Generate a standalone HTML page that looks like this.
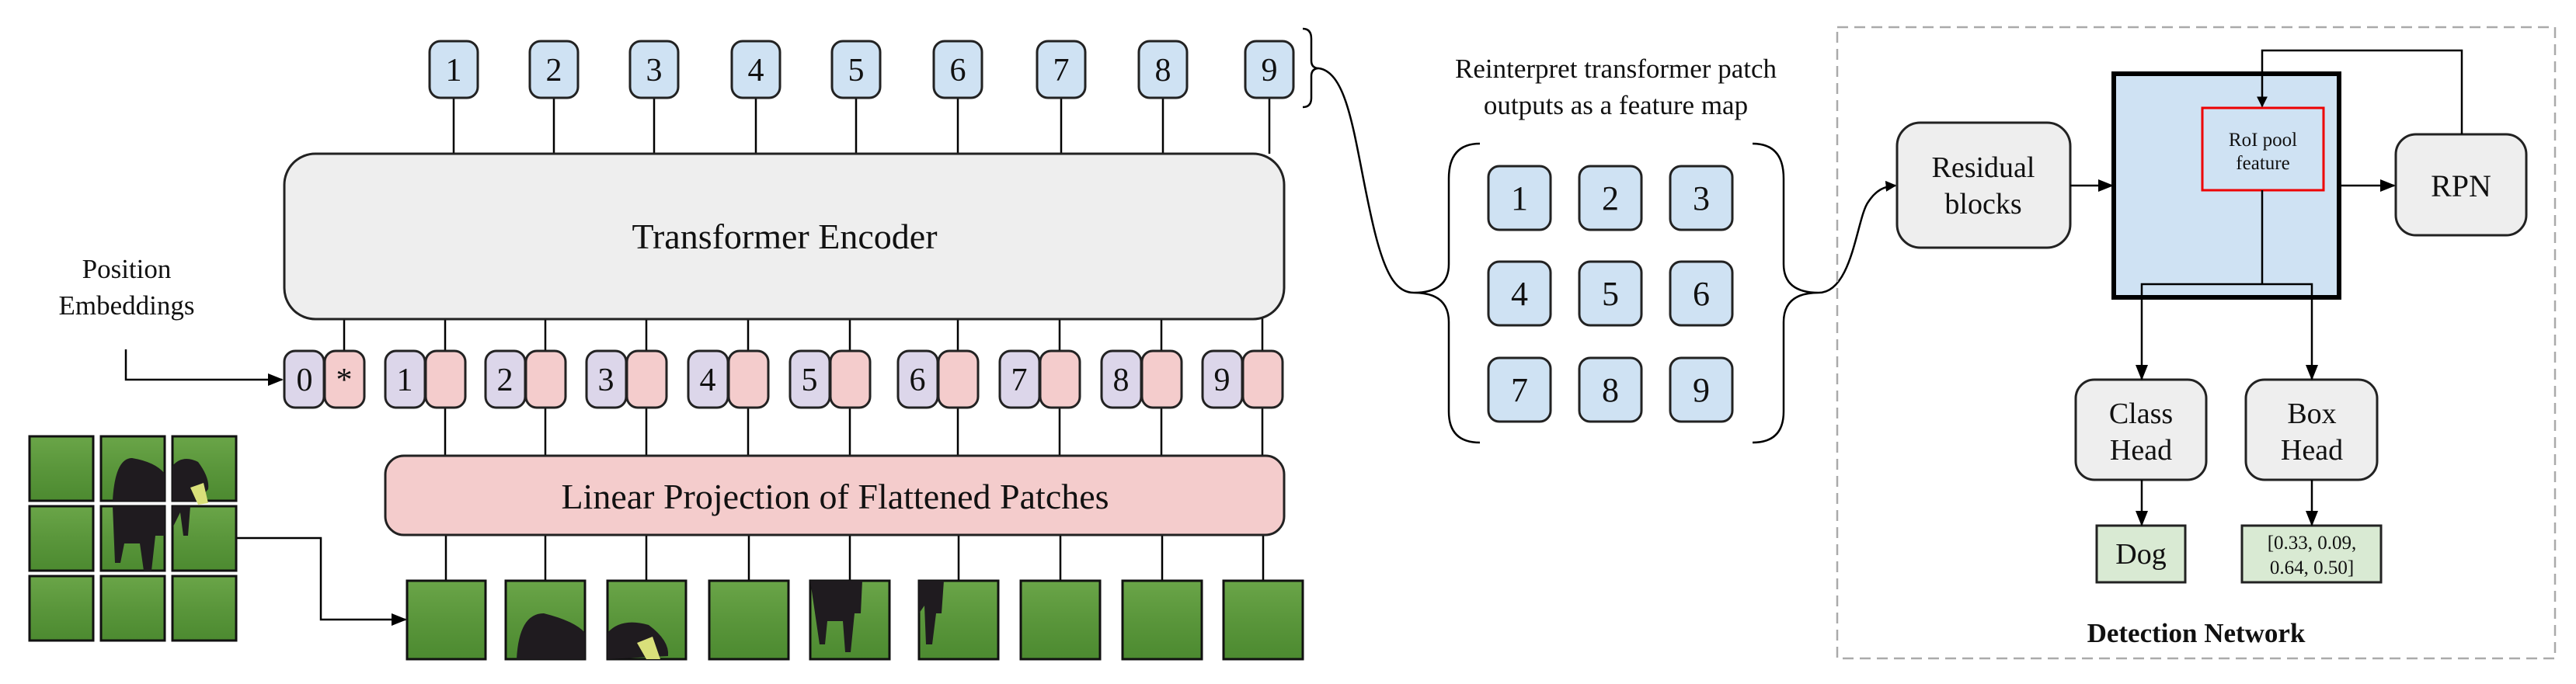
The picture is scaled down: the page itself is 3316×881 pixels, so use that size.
<!DOCTYPE html>
<html><head><meta charset="utf-8"><style>
html,body{margin:0;padding:0;background:#fff}
svg{display:block}
svg text{font-family:"Liberation Serif","Times New Roman",serif;fill:#111}
</style></head><body>
<svg width="3316" height="881" viewBox="0 0 3316 881" xmlns="http://www.w3.org/2000/svg" font-family="Liberation Serif, serif">
<defs>
<marker id="ar" viewBox="0 0 10 10" refX="9" refY="5" markerWidth="14" markerHeight="14" orient="auto" markerUnits="userSpaceOnUse"><path d="M0,0 L10,5 L0,10 z" fill="#000"/></marker>
<marker id="ar2" viewBox="0 0 10 10" refX="9" refY="5" markerWidth="20" markerHeight="20" orient="auto" markerUnits="userSpaceOnUse"><path d="M0,1 L10,5 L0,9 z" fill="#000"/></marker>
<linearGradient id="g" x1="0" y1="0" x2="0" y2="1"><stop offset="0" stop-color="#6aa548"/><stop offset="0.5" stop-color="#5a963b"/><stop offset="1" stop-color="#4c8a30"/></linearGradient>
</defs>
<g stroke="#000" stroke-width="2.5" fill="none">
<line x1="584" y1="126" x2="584" y2="198"/><line x1="713" y1="126" x2="713" y2="198"/><line x1="842" y1="126" x2="842" y2="198"/><line x1="973" y1="126" x2="973" y2="198"/><line x1="1102" y1="126" x2="1102" y2="198"/><line x1="1233" y1="126" x2="1233" y2="198"/><line x1="1366" y1="126" x2="1366" y2="198"/><line x1="1497" y1="126" x2="1497" y2="198"/><line x1="1634" y1="126" x2="1634" y2="198"/>
<line x1="443" y1="410" x2="443" y2="452"/>
<line x1="573" y1="410" x2="573" y2="452"/><line x1="702" y1="410" x2="702" y2="452"/><line x1="832" y1="410" x2="832" y2="452"/><line x1="963" y1="410" x2="963" y2="452"/><line x1="1094" y1="410" x2="1094" y2="452"/><line x1="1233" y1="410" x2="1233" y2="452"/><line x1="1364" y1="410" x2="1364" y2="452"/><line x1="1495" y1="410" x2="1495" y2="452"/><line x1="1625" y1="410" x2="1625" y2="452"/>
<line x1="573" y1="525" x2="573" y2="587"/><line x1="702" y1="525" x2="702" y2="587"/><line x1="832" y1="525" x2="832" y2="587"/><line x1="963" y1="525" x2="963" y2="587"/><line x1="1094" y1="525" x2="1094" y2="587"/><line x1="1233" y1="525" x2="1233" y2="587"/><line x1="1364" y1="525" x2="1364" y2="587"/><line x1="1495" y1="525" x2="1495" y2="587"/><line x1="1625" y1="525" x2="1625" y2="587"/>
<line x1="574" y1="688" x2="574" y2="748"/><line x1="702" y1="688" x2="702" y2="748"/><line x1="832" y1="688" x2="832" y2="748"/><line x1="964" y1="688" x2="964" y2="748"/><line x1="1094" y1="688" x2="1094" y2="748"/><line x1="1234" y1="688" x2="1234" y2="748"/><line x1="1365" y1="688" x2="1365" y2="748"/><line x1="1496" y1="688" x2="1496" y2="748"/><line x1="1626" y1="688" x2="1626" y2="748"/>
<polyline points="162,450 162,489 363,489" marker-end="url(#ar2)"/>
<polyline points="304,693 413,693 413,798 522,798" marker-end="url(#ar2)"/>
</g>
<g stroke="#222" stroke-width="3" fill="#cfe2f3">
<rect x="553" y="53" width="62" height="73" rx="14"/><rect x="682" y="53" width="62" height="73" rx="14"/><rect x="811" y="53" width="62" height="73" rx="14"/><rect x="942" y="53" width="62" height="73" rx="14"/><rect x="1071" y="53" width="62" height="73" rx="14"/><rect x="1202" y="53" width="62" height="73" rx="14"/><rect x="1335" y="53" width="62" height="73" rx="14"/><rect x="1466" y="53" width="62" height="73" rx="14"/><rect x="1603" y="53" width="62" height="73" rx="14"/>
</g>
<g font-size="42" text-anchor="middle">
<text x="584" y="104">1</text><text x="713" y="104">2</text><text x="842" y="104">3</text><text x="973" y="104">4</text><text x="1102" y="104">5</text><text x="1233" y="104">6</text><text x="1366" y="104">7</text><text x="1497" y="104">8</text><text x="1634" y="104">9</text>
</g>
<rect x="366" y="198" width="1287" height="213" rx="40" fill="#eeeeee" stroke="#222" stroke-width="3"/>
<text x="1010" y="320" font-size="46" text-anchor="middle">Transformer Encoder</text>
<text x="163" y="358" font-size="35" text-anchor="middle">Position</text>
<text x="163" y="405" font-size="35" text-anchor="middle">Embeddings</text>
<g stroke="#222" stroke-width="3">
<g fill="#dcd6ea">
<rect x="366" y="452" width="51" height="73" rx="14"/><rect x="496" y="452" width="51" height="73" rx="14"/><rect x="625" y="452" width="51" height="73" rx="14"/><rect x="755" y="452" width="51" height="73" rx="14"/><rect x="886" y="452" width="51" height="73" rx="14"/><rect x="1017" y="452" width="51" height="73" rx="14"/><rect x="1156" y="452" width="51" height="73" rx="14"/><rect x="1287" y="452" width="51" height="73" rx="14"/><rect x="1418" y="452" width="51" height="73" rx="14"/><rect x="1548" y="452" width="51" height="73" rx="14"/>
</g>
<g fill="#f4cccc">
<rect x="418" y="452" width="51" height="73" rx="14"/><rect x="548" y="452" width="51" height="73" rx="14"/><rect x="677" y="452" width="51" height="73" rx="14"/><rect x="807" y="452" width="51" height="73" rx="14"/><rect x="938" y="452" width="51" height="73" rx="14"/><rect x="1069" y="452" width="51" height="73" rx="14"/><rect x="1208" y="452" width="51" height="73" rx="14"/><rect x="1339" y="452" width="51" height="73" rx="14"/><rect x="1470" y="452" width="51" height="73" rx="14"/><rect x="1600" y="452" width="51" height="73" rx="14"/>
</g>
</g>
<g font-size="42" text-anchor="middle">
<text x="392" y="503">0</text><text x="443" y="503">*</text><text x="521" y="503">1</text><text x="650" y="503">2</text><text x="780" y="503">3</text><text x="911" y="503">4</text><text x="1042" y="503">5</text><text x="1181" y="503">6</text><text x="1312" y="503">7</text><text x="1443" y="503">8</text><text x="1573" y="503">9</text>
</g>
<rect x="496" y="587" width="1157" height="102" rx="24" fill="#f4cccc" stroke="#222" stroke-width="3"/>
<text x="1075" y="655" font-size="46" text-anchor="middle">Linear Projection of Flattened Patches</text>
<g stroke="#111" stroke-width="3" fill="url(#g)">
<rect x="38" y="562" width="82" height="83"/><rect x="130" y="562" width="82" height="83"/><rect x="222" y="562" width="82" height="83"/>
<rect x="38" y="652" width="82" height="83"/><rect x="130" y="652" width="82" height="83"/><rect x="222" y="652" width="82" height="83"/>
<rect x="38" y="742" width="82" height="83"/><rect x="130" y="742" width="82" height="83"/><rect x="222" y="742" width="82" height="83"/>
<rect x="524" y="748" width="101" height="101"/><rect x="651" y="748" width="102" height="101"/><rect x="782" y="748" width="101" height="101"/><rect x="913" y="748" width="102" height="101"/><rect x="1043" y="748" width="102" height="101"/><rect x="1183" y="748" width="102" height="101"/><rect x="1314" y="748" width="102" height="101"/><rect x="1445" y="748" width="102" height="101"/><rect x="1575" y="748" width="102" height="101"/>
</g>
<g fill="#1f1b1f">
<path d="M145,645 Q148,590 170,590 Q200,595 212,610 L212,645 Z"/>
<path d="M222,600 Q235,585 255,595 Q270,615 268,630 L255,645 L222,645 Z"/>
<path d="M145,652 L212,652 L212,690 L200,690 L195,735 L185,735 L180,700 L160,700 L155,725 L148,725 Z"/>
<path d="M222,652 L245,652 L242,690 L236,690 L232,660 L222,680 Z"/>
<path d="M665,849 Q668,790 700,790 Q740,800 753,815 L753,849 Z"/>
<path d="M782,815 Q800,795 835,805 Q862,825 860,845 L782,849 Z"/>
<path d="M1043,748 L1110,748 L1108,790 L1100,790 L1095,840 L1088,840 L1085,800 L1065,800 L1062,830 L1055,830 Z"/>
<path d="M1183,748 L1215,748 L1212,790 L1205,790 L1200,830 L1192,830 L1190,780 L1183,790 Z"/>
</g>
<g fill="#d9e07a"><path d="M245,628 L262,622 L268,648 L255,650 Z"/><path d="M820,828 L840,820 L850,849 L832,849 Z"/></g>
<g stroke="#000" stroke-width="2.5" fill="none">
<path d="M1677,37 Q1688,37 1688,50 L1688,78 Q1688,88 1698,88 Q1688,88 1688,98 L1688,126 Q1688,138 1677,138"/>
<path d="M1698,88 C1740,95 1745,200 1770,300 C1785,360 1800,377 1820,377"/>
<path d="M1905,185 Q1865,185 1865,230 L1865,340 Q1865,377 1820,377 Q1865,377 1865,415 L1865,530 Q1865,570 1905,570"/>
<path d="M2256,185 Q2296,185 2296,230 L2296,340 Q2296,377 2341,377 Q2296,377 2296,415 L2296,530 Q2296,570 2256,570"/>
<path d="M2341,377 C2385,377 2390,280 2405,260 C2415,245 2425,240 2440,239" marker-end="url(#ar)"/>
</g>
<text x="2080" y="100" font-size="35" text-anchor="middle">Reinterpret transformer patch</text>
<text x="2080" y="147" font-size="35" text-anchor="middle">outputs as a feature map</text>
<g stroke="#222" stroke-width="3" fill="#cfe2f3">
<rect x="1916" y="214" width="80" height="82" rx="14"/><rect x="2033" y="214" width="80" height="82" rx="14"/><rect x="2150" y="214" width="80" height="82" rx="14"/>
<rect x="1916" y="337" width="80" height="82" rx="14"/><rect x="2033" y="337" width="80" height="82" rx="14"/><rect x="2150" y="337" width="80" height="82" rx="14"/>
<rect x="1916" y="461" width="80" height="82" rx="14"/><rect x="2033" y="461" width="80" height="82" rx="14"/><rect x="2150" y="461" width="80" height="82" rx="14"/>
</g>
<g font-size="44" text-anchor="middle">
<text x="1956" y="270">1</text><text x="2073" y="270">2</text><text x="2190" y="270">3</text>
<text x="1956" y="393">4</text><text x="2073" y="393">5</text><text x="2190" y="393">6</text>
<text x="1956" y="517">7</text><text x="2073" y="517">8</text><text x="2190" y="517">9</text>
</g>
<rect x="2365" y="35" width="924" height="813" fill="none" stroke="#aaa" stroke-width="2.5" stroke-dasharray="14,8"/>
<rect x="2442" y="158" width="223" height="161" rx="30" fill="#eeeeee" stroke="#222" stroke-width="3"/>
<text x="2553" y="228" font-size="38" text-anchor="middle">Residual</text>
<text x="2553" y="275" font-size="38" text-anchor="middle">blocks</text>
<rect x="2721" y="95" width="290" height="288" fill="#cfe2f3" stroke="#000" stroke-width="6"/>
<rect x="2835" y="139" width="156" height="106" fill="#cfe2f3" stroke="#e00" stroke-width="3"/>
<text x="2913" y="188" font-size="25" text-anchor="middle">RoI pool</text>
<text x="2913" y="218" font-size="25" text-anchor="middle">feature</text>
<rect x="3084" y="173" width="168" height="130" rx="26" fill="#eeeeee" stroke="#222" stroke-width="3"/>
<text x="3168" y="253" font-size="40" text-anchor="middle">RPN</text>
<rect x="2672" y="489" width="168" height="129" rx="24" fill="#eeeeee" stroke="#222" stroke-width="3"/>
<text x="2756" y="545" font-size="38" text-anchor="middle">Class</text>
<text x="2756" y="592" font-size="38" text-anchor="middle">Head</text>
<rect x="2891" y="489" width="169" height="129" rx="24" fill="#eeeeee" stroke="#222" stroke-width="3"/>
<text x="2976" y="545" font-size="38" text-anchor="middle">Box</text>
<text x="2976" y="592" font-size="38" text-anchor="middle">Head</text>
<rect x="2699" y="677" width="114" height="73" fill="#d9ead3" stroke="#222" stroke-width="3"/>
<text x="2756" y="726" font-size="38" text-anchor="middle">Dog</text>
<rect x="2886" y="677" width="179" height="73" fill="#d9ead3" stroke="#222" stroke-width="3"/>
<text x="2976" y="707" font-size="25" text-anchor="middle">[0.33, 0.09,</text>
<text x="2976" y="739" font-size="25" text-anchor="middle">0.64, 0.50]</text>
<text x="2827" y="827" font-size="35" font-weight="bold" text-anchor="middle">Detection Network</text>
<g stroke="#000" stroke-width="2.5" fill="none">
<line x1="2665" y1="239" x2="2719" y2="239" marker-end="url(#ar2)"/>
<line x1="3014" y1="239" x2="3082" y2="239" marker-end="url(#ar2)"/>
<polyline points="3169,173 3169,65 2912,65 2912,137" marker-end="url(#ar)"/>
<line x1="2912" y1="245" x2="2912" y2="366"/>
<polyline points="2757,488 2757,366 2976,366 2976,488"/>
<line x1="2757" y1="470" x2="2757" y2="488" marker-end="url(#ar2)"/>
<line x1="2976" y1="470" x2="2976" y2="488" marker-end="url(#ar2)"/>
<line x1="2757" y1="618" x2="2757" y2="676" marker-end="url(#ar2)"/>
<line x1="2976" y1="618" x2="2976" y2="676" marker-end="url(#ar2)"/>
</g>
</svg>
</body></html>
